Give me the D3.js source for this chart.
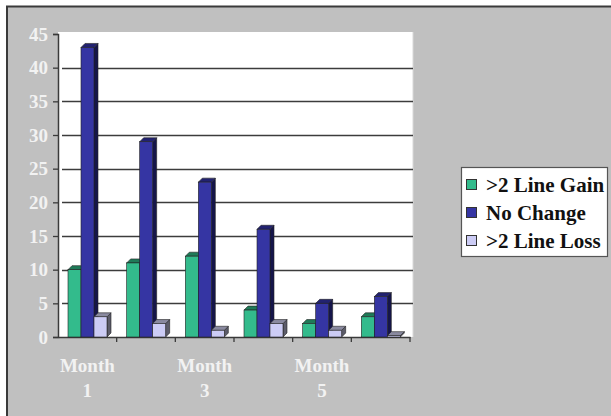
<!DOCTYPE html>
<html>
<head>
<meta charset="utf-8">
<script src="https://cdn.jsdelivr.net/npm/d3@7"></script>
<style>
  html, body { margin: 0; padding: 0; background: #ffffff; }
  svg { display: block; }
</style>
</head>
<body>
<svg id="chart" width="611" height="416"></svg>
<script>
// Monthly counts per outcome group
const months = ["1", "2", "3", "4", "5", "6"];
const monthLabels = ["Month 1", "", "Month 3", "", "Month 5", ""];
const seriesNames = [">2 Line Gain", "No Change", ">2 Line Loss"];
const gainValues = [10, 11, 12, 4, 2, 3];
const noChangeValues = [43, 29, 23, 16, 5, 6];
const lossValues = [3, 2, 1, 2, 1, 0.2];
const yTicks = [0, 5, 10, 15, 20, 25, 30, 35, 40, 45];

const seriesValues = [gainValues, noChangeValues, lossValues];
const faceColors = [
  { front: "#33bb8c", top: "#1f7a58", side: "#16563e" },
  { front: "#3535a3", top: "#222270", side: "#15154a" },
  { front: "#ccccf5", top: "#8a8aa0", side: "#5c5c6a" }
];

const serif = "'Liberation Serif', 'Times New Roman', serif";
const svg = d3.select("#chart");
const W = 611, H = 416;

// chart frame
svg.append("rect").attr("x", 7).attr("y", 6).attr("width", W - 7).attr("height", H - 6)
  .attr("fill", "#c0c0c0");
svg.append("path").attr("d", `M7,${H} V6.5 H${W}`)
  .attr("fill", "none").attr("stroke", "#3a3a3a").attr("stroke-width", 2);

const plot = { left: 58, right: 413, top: 34, bottom: 337 };
const y = d3.scaleLinear().domain([0, 45]).range([plot.bottom, plot.top]);
const x = d3.scaleBand().domain(months).range([plot.left, 410]).paddingInner(0).paddingOuter(0);
const inner = d3.scaleBand().domain(d3.range(3)).range([10, 49]).padding(0);

// back wall
svg.append("rect").attr("x", plot.left).attr("y", plot.top - 2)
  .attr("width", plot.right - plot.left).attr("height", plot.bottom - plot.top + 2)
  .attr("fill", "#ffffff");
svg.append("line").attr("x1", plot.right).attr("x2", plot.right)
  .attr("y1", plot.top - 2).attr("y2", plot.bottom)
  .attr("stroke", "#d8d8d8").attr("stroke-width", 1);

// gridlines
svg.append("g").selectAll("line").data(yTicks.filter(t => t > 0 && t < 45)).join("line")
  .attr("x1", plot.left + 4).attr("x2", plot.right)
  .attr("y1", d => Math.round(y(d)) + 0.5).attr("y2", d => Math.round(y(d)) + 0.5)
  .attr("stroke", "#3c3c3c").attr("stroke-width", 1.3);

// value axis
const yAxis = d3.axisLeft(y).tickValues(yTicks).tickSize(5).tickPadding(5);
const gy = svg.append("g").attr("transform", `translate(${plot.left},0)`).call(yAxis);
gy.select(".domain").attr("stroke", "#3a3a3a").attr("stroke-width", 1.5);
gy.selectAll(".tick line").attr("stroke", "#3a3a3a").attr("stroke-width", 1.3);
gy.selectAll(".tick text")
  .attr("fill", "#f2f2f2")
  .style("font-family", serif)
  .style("font-weight", "bold").style("font-size", "19px");

// category axis
const xAxis = d3.axisBottom(x).tickSize(0).tickFormat("");
const gx = svg.append("g").attr("transform", `translate(0,${plot.bottom})`).call(xAxis);
gx.select(".domain").attr("stroke", "#3a3a3a").attr("stroke-width", 1.5);
svg.append("g").selectAll("line").data(months).join("line")
  .attr("x1", d => x(d) + x.bandwidth()).attr("x2", d => x(d) + x.bandwidth())
  .attr("y1", plot.bottom).attr("y2", plot.bottom + 5)
  .attr("stroke", "#3a3a3a").attr("stroke-width", 1.3);

const labelG = svg.append("g")
  .style("font-family", serif)
  .style("font-weight", "bold").style("font-size", "19px")
  .attr("fill", "#f2f2f2").attr("text-anchor", "middle");
months.forEach((m, i) => {
  if (!monthLabels[i]) return;
  const parts = monthLabels[i].split(" ");
  const cx = x(m) + x.bandwidth() / 2;
  labelG.append("text").attr("x", cx).attr("y", 372).text(parts[0]);
  labelG.append("text").attr("x", cx).attr("y", 397).text(parts[1]);
});

// 3D columns
const depth = 4;
const barW = 13;
const bars = svg.append("g");
months.forEach((m, i) => {
  seriesValues.forEach((vals, s) => {
    const x0 = x(m) + inner(s);
    const yTop = y(vals[i]);
    const y0 = plot.bottom;
    const c = faceColors[s];
    const g = bars.append("g");
    g.append("path")
      .attr("d", `M${x0 + barW},${y0} L${x0 + barW + depth},${y0 - depth} L${x0 + barW + depth},${yTop - depth} L${x0 + barW},${yTop} Z`)
      .attr("fill", c.side).attr("stroke", "#222").attr("stroke-width", 0.6);
    g.append("path")
      .attr("d", `M${x0},${yTop} L${x0 + depth},${yTop - depth} L${x0 + barW + depth},${yTop - depth} L${x0 + barW},${yTop} Z`)
      .attr("fill", c.top).attr("stroke", "#222").attr("stroke-width", 0.6);
    g.append("rect")
      .attr("x", x0).attr("y", yTop).attr("width", barW).attr("height", y0 - yTop)
      .attr("fill", c.front).attr("stroke", "#222").attr("stroke-width", 0.6);
  });
});

// legend
const leg = svg.append("g").attr("transform", "translate(461,167)");
leg.append("rect").attr("x", 0.5).attr("y", 0.5).attr("width", 146).attr("height", 89)
  .attr("fill", "#ffffff").attr("stroke", "#555").attr("stroke-width", 1.2);
seriesNames.forEach((name, s) => {
  const ry = 18 + s * 28;
  leg.append("rect").attr("x", 5.5).attr("y", ry - 5.5).attr("width", 10).attr("height", 10)
    .attr("fill", faceColors[s].front).attr("stroke", "#333").attr("stroke-width", 1);
  leg.append("text").attr("x", 25).attr("y", ry + 7).text(name)
    .attr("fill", "#111")
    .style("font-family", serif)
    .style("font-weight", "bold").style("font-size", "21px");
});
</script>
</body>
</html>
